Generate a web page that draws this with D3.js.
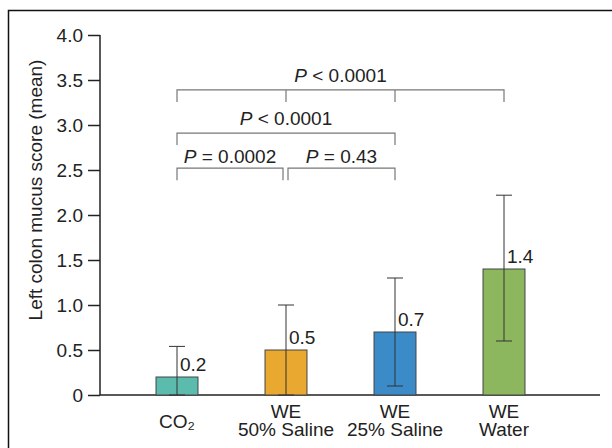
<!DOCTYPE html>
<html>
<head>
<meta charset="utf-8">
<script src="https://cdn.jsdelivr.net/npm/d3@7"></script>
<style>
  body { margin: 0; background: #fff; }
  text { font-family: "Liberation Sans", Arial, sans-serif; }
</style>
</head>
<body>
<div id="chart"></div>
<script>
// Data
const groups = ["CO2", "WE 50% Saline", "WE 25% Saline", "WE Water"];
const groupLines = [["CO\u2082"], ["WE", "50% Saline"], ["WE", "25% Saline"], ["WE", "Water"]];
const means = [0.2, 0.5, 0.7, 1.4];
const errLow = [0, 0, 0.1, 0.6];
const errHigh = [0.54, 1.0, 1.3, 2.22];
const barColors = ["#5bbcae", "#e9a82f", "#3a8bc8", "#8cb75e"];
const yTicks = [0, 0.5, 1.0, 1.5, 2.0, 2.5, 3.0, 3.5, 4.0];

// Significance brackets: from group index, to group index, level value, label
const brackets = [
    { from: 0, to: 1, level: 2.52, p: "= 0.0002", mid: [] },
    { from: 1, to: 2, level: 2.52, p: "= 0.43", mid: [] },
    { from: 0, to: 2, level: 2.91, p: "< 0.0001", mid: [] },
    { from: 0, to: 3, level: 3.39, p: "< 0.0001", mid: [1, 2] }
];

const width = 612, height = 448;
const fontSize = 19;

const svg = d3.select("#chart")
    .append("svg")
    .attr("width", width)
    .attr("height", height);

// Outer frame (runs off the picture on the right and bottom)
svg.append("rect")
    .attr("x", 8.5).attr("y", 10.5)
    .attr("width", 700).attr("height", 500)
    .attr("fill", "none")
    .attr("stroke", "#111")
    .attr("stroke-width", 1.5);

const y = d3.scaleLinear().domain([0, 4]).range([395, 35]);
const x = d3.scaleBand()
    .domain(groups)
    .range([122.5, 558.5])
    .paddingInner(0.615)
    .paddingOuter(0.3075);

const axisX0 = 100, axisX1 = 600;

// Y axis
const yAxis = d3.axisLeft(y)
    .tickValues(yTicks)
    .tickSize(12)
    .tickPadding(5)
    .tickFormat(d => d === 0 ? "0" : d3.format(".1f")(d));

const gy = svg.append("g")
    .attr("transform", `translate(${axisX0},0)`)
    .call(yAxis);
gy.select(".domain").remove();
gy.append("line")
    .attr("x1", 0).attr("x2", 0)
    .attr("y1", y(4)).attr("y2", y(0))
    .attr("stroke", "#222").attr("stroke-width", 1.5);
gy.selectAll(".tick line").attr("stroke", "#222").attr("stroke-width", 1.5);
gy.selectAll(".tick text")
    .attr("font-size", fontSize)
    .attr("fill", "#222")
    .style("font-family", "'Liberation Sans', Arial, sans-serif");

// X axis baseline
svg.append("line")
    .attr("x1", axisX0).attr("x2", axisX1)
    .attr("y1", y(0)).attr("y2", y(0))
    .attr("stroke", "#222").attr("stroke-width", 1.5);

// Y axis title
svg.append("text")
    .attr("transform", "translate(42,190) rotate(-90)")
    .attr("text-anchor", "middle")
    .attr("font-size", fontSize)
    .attr("fill", "#222")
    .text("Left colon mucus score (mean)");

// Bars
svg.selectAll(".bar")
    .data(groups)
    .enter().append("rect")
    .attr("class", "bar")
    .attr("x", d => x(d))
    .attr("y", (d, i) => y(means[i]))
    .attr("width", x.bandwidth())
    .attr("height", (d, i) => y(0) - y(means[i]))
    .attr("fill", (d, i) => barColors[i])
    .attr("stroke", "#444")
    .attr("stroke-width", 1);

// Error bars
const cx = d => x(d) + x.bandwidth() / 2;
const capHalf = 8;
const err = svg.append("g").attr("stroke", "#333").attr("stroke-width", 1);
groups.forEach((g, i) => {
    err.append("line")
        .attr("x1", cx(g)).attr("x2", cx(g))
        .attr("y1", y(errLow[i])).attr("y2", y(errHigh[i]));
    [errLow[i], errHigh[i]].forEach(v => {
        err.append("line")
            .attr("x1", cx(g) - capHalf).attr("x2", cx(g) + capHalf)
            .attr("y1", y(v)).attr("y2", y(v));
    });
});

// Value labels
svg.selectAll(".val")
    .data(groups)
    .enter().append("text")
    .attr("class", "val")
    .attr("x", d => cx(d) + 3)
    .attr("y", (d, i) => y(means[i]) - 6)
    .attr("font-size", fontSize)
    .attr("fill", "#222")
    .text((d, i) => d3.format(".1f")(means[i]));

// Category labels, one text per line
groups.forEach((g, i) => {
    const lines = groupLines[i];
    const baseY = lines.length === 1 ? [428] : [418, 436];
    lines.forEach((l, k) => {
        svg.append("text")
            .attr("x", cx(g))
            .attr("y", baseY[k])
            .attr("text-anchor", "middle")
            .attr("font-size", fontSize)
            .attr("fill", "#222")
            .text(l);
    });
});

// Significance brackets
const bg = svg.append("g");
brackets.forEach((b, bi) => {
    let x1 = cx(groups[b.from]);
    let x2 = cx(groups[b.to]);
    // the two adjacent low brackets leave a small gap at the shared group
    if (bi === 0) x2 -= 3;
    if (bi === 1) x1 += 2;
    const yy = y(b.level);
    const drop = 12;
    bg.append("path")
        .attr("d", `M${x1},${yy + drop}V${yy}H${x2}V${yy + drop}`)
        .attr("fill", "none")
        .attr("stroke", "#777")
        .attr("stroke-width", 1.2);
    b.mid.forEach(m => {
        bg.append("line")
            .attr("x1", cx(groups[m])).attr("x2", cx(groups[m]))
            .attr("y1", yy).attr("y2", yy + drop)
            .attr("stroke", "#777")
            .attr("stroke-width", 1.2);
    });
    const t = bg.append("text")
        .attr("x", (x1 + x2) / 2)
        .attr("y", yy - (bi < 2 ? 5 : 8))
        .attr("text-anchor", "middle")
        .attr("font-size", fontSize)
        .attr("fill", "#222");
    t.append("tspan").attr("font-style", "italic").text("P");
    t.append("tspan").text(" " + b.p);
});
</script>
</body>
</html>
